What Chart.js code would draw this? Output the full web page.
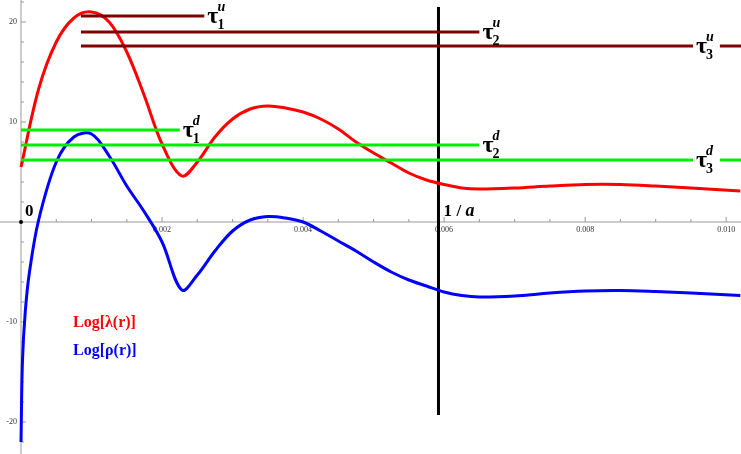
<!DOCTYPE html>
<html>
<head>
<meta charset="utf-8">
<script src="https://cdn.jsdelivr.net/npm/chart.js@4"></script>
<style>
  html, body { margin: 0; padding: 0; background: #fff; }
  #wrap { width: 741px; height: 454px; }
</style>
</head>
<body>
<div id="wrap"><canvas id="c"></canvas></div>
<script>
'use strict';

/* ---- DATA ------------------------------------------------- */
const lambdaX = [0, 0.00025, 0.0005, 0.00075, 0.001, 0.00125, 0.0015, 0.00175, 0.002, 0.00228, 0.0025, 0.00275, 0.003, 0.00325, 0.0035, 0.00375, 0.004, 0.00425, 0.0045, 0.00475, 0.005, 0.00525, 0.0055, 0.00575, 0.006, 0.00625, 0.0065, 0.007, 0.0075, 0.008, 0.0085, 0.009, 0.0095, 0.0102];
const lambdaY = [5.5, 13.3, 18.0, 20.4, 21.0, 20.0, 17.0, 12.6, 7.8, 4.6, 6.0, 8.5, 10.3, 11.3, 11.6, 11.4, 11.0, 10.3, 9.3, 8.0, 6.9, 5.9, 4.9, 4.2, 3.75, 3.4, 3.3, 3.4, 3.6, 3.75, 3.75, 3.6, 3.4, 3.1];
const rhoX = [0, 0.00002, 0.00006, 0.00012, 0.00025, 0.0005, 0.00075, 0.001, 0.00125, 0.0015, 0.00175, 0.002, 0.00228, 0.0025, 0.00275, 0.003, 0.00325, 0.0035, 0.00375, 0.004, 0.00425, 0.0045, 0.00475, 0.005, 0.00525, 0.0055, 0.00575, 0.006, 0.00625, 0.0065, 0.007, 0.0075, 0.008, 0.0085, 0.009, 0.0095, 0.0102];
const rhoY = [-22, -14, -9, -5, 0.2, 6.0, 8.5, 8.8, 6.6, 3.6, 1.0, -2.0, -6.8, -5.3, -2.9, -0.9, 0.2, 0.55, 0.4, 0.0, -0.9, -1.9, -2.9, -4.0, -5.0, -5.8, -6.4, -7.0, -7.35, -7.5, -7.4, -7.1, -6.9, -6.85, -6.95, -7.1, -7.35];

// horizontal levels: [value, x start, x end, label index]
const upLevels = [[20.6, 0.00085, 0.0026, '1'], [19.0, 0.00085, 0.0065, '2'], [17.6, 0.00085, 0.00953, '3']];
const downLevels = [[9.2, 0, 0.00225, '1'], [7.7, 0, 0.0065, '2'], [6.2, 0, 0.00953, '3']];
const tailStart = 0.00991, tailEnd = 0.01021;
const invA = 0.00592;
const xTicks = [0.002, 0.004, 0.006, 0.008, 0.010];
const yTicks = [20, 10, -10, -20];

const pts = (xs, ys) => xs.map((x, i) => ({ x, y: ys[i] }));
const seg = (v, a, b) => [{ x: a, y: v }, { x: b, y: v }];

const datasets = [];
const lvl = (l, color) => {
  datasets.push({ data: seg(l[0], l[1], l[2]), borderColor: color, borderWidth: 3, pointRadius: 0 });
  if (l[3] === '3') datasets.push({ data: seg(l[0], tailStart, tailEnd), borderColor: color, borderWidth: 3, pointRadius: 0 });
};
upLevels.forEach(l => lvl(l, '#7f0000'));
downLevels.forEach(l => lvl(l, '#00ee00'));
datasets.push({ data: pts(lambdaX, lambdaY), borderColor: '#ff0000', borderWidth: 3, pointRadius: 0, tension: 0.35 });
datasets.push({ data: pts(rhoX, rhoY), borderColor: '#0000ff', borderWidth: 3, pointRadius: 0, tension: 0.35 });
datasets.push({ data: [{ x: invA, y: 21.5 }, { x: invA, y: -19.3 }], borderColor: '#000', borderWidth: 3, pointRadius: 0 });

/* ---- AXES + LABELS ---------------------------------------- */
const overlay = {
  id: 'overlay',
  beforeDatasetsDraw(chart) {
    const { ctx, scales: { x, y } } = chart;
    const x0 = x.getPixelForValue(0), y0 = y.getPixelForValue(0);
    ctx.save();
    ctx.strokeStyle = '#999'; ctx.lineWidth = 1;
    ctx.beginPath();
    ctx.moveTo(x0, 0); ctx.lineTo(x0, chart.height);
    ctx.moveTo(0, y0); ctx.lineTo(chart.width, y0);
    for (let v = 0.0005; v < 0.0102; v += 0.0005) {
      const px = x.getPixelForValue(v), major = Math.abs(v / 0.002 - Math.round(v / 0.002)) < 1e-6;
      ctx.moveTo(px, y0); ctx.lineTo(px, y0 - (major ? 5 : 3));
    }
    for (let v = -22; v <= 22; v += 2) {
      if (v === 0) continue;
      const py = y.getPixelForValue(v), major = v % 10 === 0;
      ctx.moveTo(x0, py); ctx.lineTo(x0 + (major ? 5 : 3), py);
    }
    ctx.stroke();
    ctx.fillStyle = '#333'; ctx.font = '8px "Liberation Serif"';
    ctx.textAlign = 'center'; ctx.textBaseline = 'top';
    xTicks.forEach(v => ctx.fillText(v.toFixed(3), x.getPixelForValue(v), y0 + 4));
    ctx.textAlign = 'right'; ctx.textBaseline = 'middle';
    yTicks.forEach(v => ctx.fillText(String(v), x0 - 4, y.getPixelForValue(v)));
    ctx.fillStyle = '#000';
    ctx.beginPath(); ctx.arc(x0, y0, 2, 0, Math.PI * 2); ctx.fill();
    ctx.restore();
  },
  afterDatasetsDraw(chart) {
    const { ctx, scales: { x, y } } = chart;
    ctx.save();
    const tau = (l, sup) => {
      const px = x.getPixelForValue(l[2]) + 3, py = y.getPixelForValue(l[0]);
      ctx.font = 'bold 24px "Liberation Serif"';
      const w = ctx.measureText('τ').width;
      ctx.fillStyle = '#000'; ctx.textAlign = 'left'; ctx.textBaseline = 'middle';
      ctx.fillText('τ', px, py + 1);
      ctx.font = 'bold italic 14px "Liberation Serif"';
      ctx.fillText(sup, px + w - 1, py - 9);
      ctx.font = 'bold 14px "Liberation Serif"';
      ctx.fillText(l[3], px + w - 1, py + 9);
    };
    upLevels.forEach(l => tau(l, 'u'));
    downLevels.forEach(l => tau(l, 'd'));
    const y0 = y.getPixelForValue(0);
    ctx.font = 'bold 17px "Liberation Serif"'; ctx.textAlign = 'left'; ctx.textBaseline = 'alphabetic';
    ctx.fillText('0', x.getPixelForValue(0) + 4, y0 - 6);
    const ax = x.getPixelForValue(invA) + 5;
    ctx.fillText('1', ax, y0 - 6);
    ctx.fillText('/', ax + 13, y0 - 6);
    ctx.font = 'bold italic 18px "Liberation Serif"'; ctx.fillText('a', ax + 22, y0 - 6);
    ctx.font = 'bold 16px "Liberation Serif"';
    ctx.fillStyle = '#ff0000'; ctx.fillText('Log[λ(r)]', 73, 327);
    ctx.fillStyle = '#0000ff'; ctx.fillText('Log[ρ(r)]', 73, 355);
    ctx.restore();
  }
};

new Chart(document.getElementById('c'), {
  type: 'line',
  data: { datasets },
  options: {
    responsive: true,
    maintainAspectRatio: false,
    animation: false,
    layout: { padding: 0 },
    plugins: { legend: { display: false }, tooltip: { enabled: false } },
    scales: {
      x: { type: 'linear', min: -0.000298, max: 0.01021, display: false },
      y: { type: 'linear', min: -23.2, max: 22.2, display: false }
    }
  },
  plugins: [overlay]
});
</script>
</body>
</html>
